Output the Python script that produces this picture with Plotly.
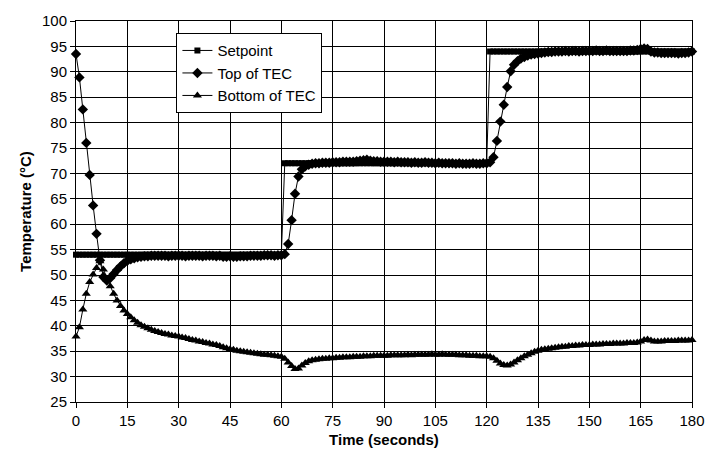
import plotly.graph_objects as go

time_s = list(range(181))

setpoint = [
    54, 54, 54, 54, 54, 54, 54, 54, 54, 54,
    54, 54, 54, 54, 54, 54, 54, 54, 54, 54,
    54, 54, 54, 54, 54, 54, 54, 54, 54, 54,
    54, 54, 54, 54, 54, 54, 54, 54, 54, 54,
    54, 54, 54, 54, 54, 54, 54, 54, 54, 54,
    54, 54, 54, 54, 54, 54, 54, 54, 54, 54,
    54, 72, 72, 72, 72, 72, 72, 72, 72, 72,
    72, 72, 72, 72, 72, 72, 72, 72, 72, 72,
    72, 72, 72, 72, 72, 72, 72, 72, 72, 72,
    72, 72, 72, 72, 72, 72, 72, 72, 72, 72,
    72, 72, 72, 72, 72, 72, 72, 72, 72, 72,
    72, 72, 72, 72, 72, 72, 72, 72, 72, 72,
    72, 94, 94, 94, 94, 94, 94, 94, 94, 94,
    94, 94, 94, 94, 94, 94, 94, 94, 94, 94,
    94, 94, 94, 94, 94, 94, 94, 94, 94, 94,
    94, 94, 94, 94, 94, 94, 94, 94, 94, 94,
    94, 94, 94, 94, 94, 94, 94, 94, 94, 94,
    94, 94, 94, 94, 94, 94, 94, 94, 94, 94,
    94,
]

top_tec = [
    93.5, 88.9, 82.6, 76.0, 69.7, 63.7, 58.1, 52.9, 49.6, 48.9,
    49.4, 50.2, 51.0, 51.7, 52.3, 52.8, 53.1, 53.3, 53.5, 53.6,
    53.7, 53.7, 53.8, 53.8, 53.8, 53.8, 53.8, 53.7, 53.8, 53.8,
    53.8, 53.8, 53.7, 53.8, 53.8, 53.8, 53.8, 53.7, 53.8, 53.8,
    53.8, 53.7, 53.8, 53.6, 53.6, 53.7, 53.6, 53.6, 53.7, 53.7,
    53.7, 53.8, 53.8, 53.8, 53.8, 53.9, 53.9, 53.9, 53.8, 53.9,
    53.9, 54.1, 56.1, 60.8, 66.0, 69.4, 70.8, 71.4, 71.7, 71.9,
    72.0, 72.0, 72.1, 72.1, 72.1, 72.2, 72.2, 72.2, 72.3, 72.3,
    72.3, 72.3, 72.4, 72.5, 72.6, 72.7, 72.5, 72.4, 72.4, 72.3,
    72.3, 72.3, 72.3, 72.2, 72.3, 72.2, 72.2, 72.2, 72.1, 72.2,
    72.1, 72.1, 72.2, 72.1, 72.1, 72.0, 72.1, 72.0, 72.0, 72.0,
    72.0, 71.9, 72.0, 71.9, 71.9, 71.9, 72.0, 71.9, 71.9, 72.0,
    72.0, 72.2, 73.2, 76.4, 80.2, 83.5, 87.0, 90.1, 91.4, 92.1,
    92.6, 92.9, 93.2, 93.4, 93.5, 93.6, 93.7, 93.8, 93.9, 93.9,
    94.0, 94.0, 94.0, 94.1, 94.0, 94.1, 94.1, 94.0, 94.1, 94.1,
    94.1, 94.1, 94.2, 94.1, 94.1, 94.2, 94.1, 94.1, 94.1, 94.1,
    94.1, 94.1, 94.2, 94.2, 94.3, 94.5, 94.6, 94.5, 94.0, 93.8,
    93.8, 93.7, 93.7, 93.7, 93.7, 93.7, 93.6, 93.7, 93.7, 93.8,
    94.0,
]

bottom_tec = [
    37.9, 39.7, 43.2, 46.3, 48.6, 50.1, 51.4, 52.7, 51.1, 49.3,
    47.8, 46.3, 45.0, 43.9, 43.0, 42.3, 41.7, 41.1, 40.6, 40.1,
    39.8, 39.5, 39.2, 39.0, 38.8, 38.6, 38.4, 38.3, 38.1, 38.0,
    37.9, 37.7, 37.6, 37.4, 37.2, 37.1, 36.9, 36.8, 36.6, 36.5,
    36.3, 36.2, 36.0, 35.8, 35.6, 35.4, 35.3, 35.1, 35.0, 34.9,
    34.8, 34.7, 34.6, 34.5, 34.4, 34.3, 34.3, 34.2, 34.1, 34.0,
    33.9, 33.5, 32.8, 32.1, 31.5, 31.6, 32.2, 32.7, 33.0, 33.2,
    33.3, 33.4, 33.5, 33.5, 33.6, 33.6, 33.7, 33.7, 33.8, 33.8,
    33.8, 33.9, 33.9, 33.9, 34.0, 34.0, 34.0, 34.1, 34.1, 34.1,
    34.1, 34.1, 34.2, 34.2, 34.2, 34.2, 34.2, 34.3, 34.2, 34.3,
    34.3, 34.3, 34.3, 34.3, 34.4, 34.3, 34.3, 34.4, 34.3, 34.3,
    34.3, 34.3, 34.2, 34.2, 34.2, 34.1, 34.1, 34.1, 34.0, 34.0,
    34.0, 33.9, 33.6, 33.1, 32.6, 32.3, 32.2, 32.4, 32.8, 33.2,
    33.6, 34.0, 34.3, 34.6, 34.9, 35.1, 35.3, 35.4, 35.5, 35.6,
    35.7, 35.8, 35.9, 35.9, 36.0, 36.0, 36.1, 36.1, 36.2, 36.2,
    36.2, 36.3, 36.3, 36.3, 36.4, 36.4, 36.4, 36.5, 36.5, 36.5,
    36.5, 36.6, 36.6, 36.6, 36.7, 36.9, 37.2, 37.3, 37.1, 36.9,
    36.9, 36.9, 37.0, 37.0, 37.0, 37.0, 37.1, 37.1, 37.1, 37.1,
    37.2,
]

x_ticks = [0, 15, 30, 45, 60, 75, 90, 105, 120, 135, 150, 165, 180]
y_ticks = [25, 30, 35, 40, 45, 50, 55, 60, 65, 70, 75, 80, 85, 90, 95, 100]

FONT = "Liberation Sans, Arial, sans-serif"

fig = go.Figure()
fig.add_trace(go.Scatter(
    x=time_s, y=setpoint, name="Setpoint", mode="lines+markers",
    line=dict(color="black", width=1),
    marker=dict(symbol="square", size=6, color="black"),
    cliponaxis=False,
))
fig.add_trace(go.Scatter(
    x=time_s, y=top_tec, name="Top of TEC", mode="lines+markers",
    line=dict(color="black", width=1),
    marker=dict(symbol="diamond", size=8, color="black"),
    cliponaxis=False,
))
fig.add_trace(go.Scatter(
    x=time_s, y=bottom_tec, name="Bottom of TEC", mode="lines+markers",
    line=dict(color="black", width=1),
    marker=dict(symbol="triangle-up", size=8, color="black"),
    cliponaxis=False,
))

fig.update_layout(
    width=717, height=459,
    margin=dict(l=76, r=17, t=15, b=57),
    paper_bgcolor="white", plot_bgcolor="white",
    font=dict(family=FONT, size=15, color="black"),
    showlegend=True,
    legend=dict(
        x=0.163, y=0.968, xanchor="left", yanchor="top",
        bgcolor="white", bordercolor="black", borderwidth=1,
        font=dict(family=FONT, size=15, color="black"),
        tracegroupgap=0, itemwidth=30,
    ),
    xaxis=dict(
        range=[0, 180], tickmode="array", tickvals=x_ticks,
        showgrid=True, gridcolor="black", gridwidth=1,
        showline=True, linecolor="black", linewidth=1, mirror=True,
        ticks="outside", ticklen=5, tickcolor="black",
        zeroline=False,
        title=dict(text="<b>Time (seconds)</b>", font=dict(family=FONT, size=15), standoff=6),
    ),
    yaxis=dict(
        range=[25, 100], tickmode="array", tickvals=y_ticks,
        showgrid=True, gridcolor="black", gridwidth=1,
        showline=True, linecolor="black", linewidth=1, mirror=True,
        ticks="outside", ticklen=5, tickcolor="black",
        zeroline=False,
        title=dict(text="<b>Temperature (°C)</b>", font=dict(family=FONT, size=15), standoff=6),
    ),
)

fig.write_html("out.html")
